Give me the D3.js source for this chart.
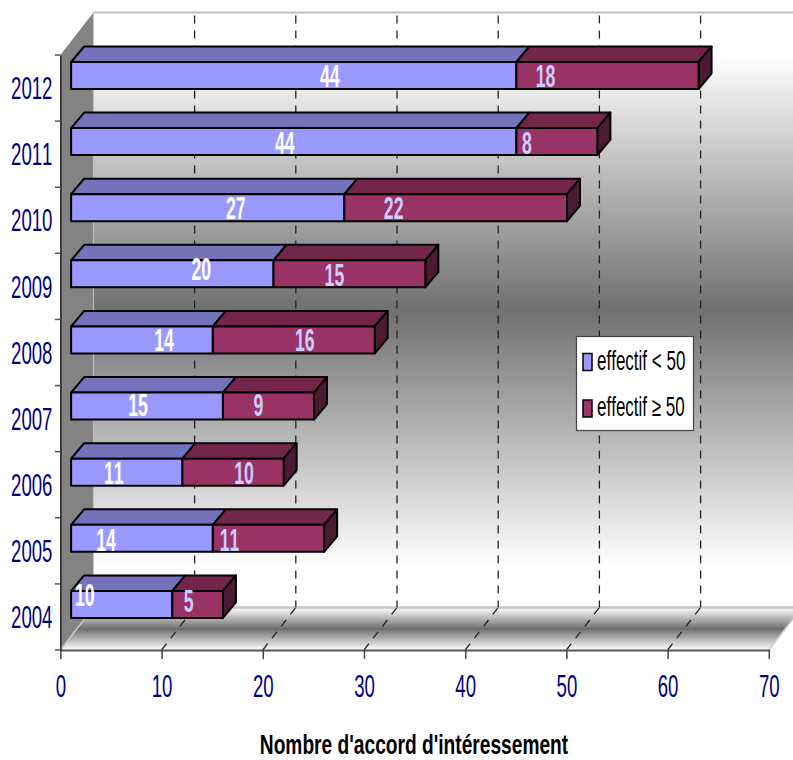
<!DOCTYPE html>
<html>
<head>
<meta charset="utf-8">
<script src="https://cdn.jsdelivr.net/npm/d3@7"></script>
<style>
  html, body { margin: 0; padding: 0; background: #fff; }
  svg { display: block; }
  text { font-family: "Liberation Sans", Arial, sans-serif; font-kerning: none; }
</style>
</head>
<body>
<svg id="chart" width="793" height="760"></svg>
<script>
// Yearly agreement counts, split by company size
const years = ["2012", "2011", "2010", "2009", "2008", "2007", "2006", "2005", "2004"];
const under50 = [44, 44, 27, 20, 14, 15, 11, 14, 10];
const over50 = [18, 8, 22, 15, 16, 9, 10, 11, 5];
const seriesNames = ["effectif < 50", "effectif \u2265 50"];
const xTicks = [0, 10, 20, 30, 40, 50, 60, 70];
const axisTitle = "Nombre d'accord d'int\u00e9ressement";

// Hand-placed value labels: offset from each segment's centre
const nudgeUnder = [[36, 0], [-9, 1], [28, 0], [29, -5], [22, 0], [-9, -1], [-13, 1], [-36, 2], [-37, -10]];
const nudgeOver = [[-62, 0], [-30, 1], [-62, 0], [-15, 1], [11, 0], [-10, -1], [11, 1], [-39, 2], [-9, -4]];

const svg = d3.select("#chart");
const x = d3.scaleLinear().domain([0, 70]).range([60.4, 768.8]);
const y = d3.scaleBand().domain(years).range([55, 650]);

// Oblique projection of the chart box and of each bar
const wallDx = 33, wallDy = -42.5;
const barDx = 13, barDy = -15.5;
const barShift = 1.06;    // bars sit about one unit in from the wall
const barInset = 7, barHeight = 27;

const colors = {
  a: { front: "#9999ff", top: "#7373bb", side: "#5c5c99", label: "#ffffff" },
  b: { front: "#993366", top: "#732649", side: "#4d1a33", label: "#ccccff" }
};

const defs = svg.append("defs");
const wallGrad = defs.append("linearGradient").attr("id", "wallFill").attr("x1", 0).attr("y1", 0).attr("x2", 0).attr("y2", 1);
[[0, "#ffffff"], [0.07, "#ffffff"], [0.5, "#707070"], [0.93, "#ffffff"], [1, "#ffffff"]]
  .forEach(([o, c]) => wallGrad.append("stop").attr("offset", o).attr("stop-color", c));
const floorGrad = defs.append("linearGradient").attr("id", "floorFill").attr("x1", 0).attr("y1", 0).attr("x2", 0).attr("y2", 1);
[[0, "#ffffff"], [0.5, "#6e6e6e"], [1, "#ffffff"]]
  .forEach(([o, c]) => floorGrad.append("stop").attr("offset", o).attr("stop-color", c));

const x0 = x(0), x1 = x(70), yTop = y.range()[0], yBot = y.range()[1];
const poly = pts => pts.map(p => p.join(",")).join(" ");

// Chart box: back wall, left wall, floor
svg.append("polygon")
  .attr("points", poly([[x0 + wallDx, yTop + wallDy], [x1 + wallDx, yTop + wallDy], [x1 + wallDx, yBot + wallDy], [x0 + wallDx, yBot + wallDy]]))
  .attr("fill", "url(#wallFill)");
svg.append("polygon")
  .attr("points", poly([[x0, yTop], [x0 + wallDx, yTop + wallDy], [x0 + wallDx, yBot + wallDy], [x0, yBot]]))
  .attr("fill", "#838383");
svg.append("polygon")
  .attr("points", poly([[x0, yBot], [x1, yBot], [x1 + wallDx, yBot + wallDy], [x0 + wallDx, yBot + wallDy]]))
  .attr("fill", "url(#floorFill)");
svg.append("line")
  .attr("x1", x0 + wallDx).attr("x2", 793).attr("y1", yTop + wallDy).attr("y2", yTop + wallDy)
  .attr("stroke", "#c0c0c0").attr("stroke-width", 2);
svg.append("line")
  .attr("x1", x0 + wallDx).attr("x2", 793).attr("y1", yBot + wallDy).attr("y2", yBot + wallDy)
  .attr("stroke", "#c4c4c4").attr("stroke-width", 2.5);
svg.append("line")
  .attr("x1", x0 + wallDx).attr("x2", x0 + wallDx).attr("y1", yTop + wallDy).attr("y2", yBot + wallDy)
  .attr("stroke", "#c0c0c0").attr("stroke-width", 1);
svg.append("line")
  .attr("x1", x0).attr("y1", yBot).attr("x2", x0 + wallDx).attr("y2", yBot + wallDy)
  .attr("stroke", "#c8c8c8").attr("stroke-width", 1.5);
svg.append("line")
  .attr("x1", x1).attr("y1", yBot).attr("x2", x1 + wallDx).attr("y2", yBot + wallDy)
  .attr("stroke", "#c8c8c8").attr("stroke-width", 1.5);

// Dashed gridlines up the back wall and across the floor
const gridValues = xTicks.slice(1, -1);
const grid = svg.append("g").attr("fill", "none").attr("stroke", "#222").attr("stroke-width", 1.3).attr("stroke-dasharray", "8 7");
grid.selectAll(".wall").data(gridValues).join("line")
  .attr("x1", d => x(d) + wallDx).attr("x2", d => x(d) + wallDx)
  .attr("y1", yTop + wallDy + 3).attr("y2", yBot + wallDy);
grid.selectAll(".floor").data(gridValues).join("line")
  .attr("x1", d => x(d)).attr("y1", yBot)
  .attr("x2", d => x(d) + wallDx).attr("y2", yBot + wallDy);

// Axes
const axisBottom = svg.append("g")
  .attr("transform", `translate(0,${yBot})`)
  .call(d3.axisBottom(x).tickValues(xTicks).tickSize(9).tickPadding(0).tickSizeOuter(0));
axisBottom.select(".domain").attr("stroke", "#555").attr("stroke-width", 2);
axisBottom.selectAll(".tick line").attr("stroke", "#444").attr("stroke-width", 1.5);
axisBottom.selectAll(".tick text")
  .attr("y", 0).attr("dy", 0)
  .attr("transform", "translate(0,47) scale(0.6,1)")
  .attr("font-size", 31).attr("fill", "#000080");

const axisLeft = svg.append("g")
  .attr("transform", `translate(${x0},0)`)
  .call(d3.axisLeft(y).tickSize(0).tickSizeOuter(0));
axisLeft.select(".domain").attr("stroke", "#222").attr("stroke-width", 1.5);
axisLeft.selectAll(".tick text")
  .attr("x", 0).attr("dy", "0.36em")
  .attr("transform", "translate(-8,0) scale(0.6,1)")
  .attr("font-size", 31).attr("fill", "#000080");
svg.append("g").selectAll("line").data(years.concat("end")).join("line")
  .attr("x1", x0 - 5.5).attr("x2", x0)
  .attr("y1", (d, i) => yTop + i * y.step()).attr("y2", (d, i) => yTop + i * y.step())
  .attr("stroke", "#555").attr("stroke-width", 1.5);

// A bar segment is a front face with a top face and, at the end of the stack, a side face
function segment(g, from, to, yFront, c, withSide) {
  const l = x(barShift + from), r = x(barShift + to), t = yFront, b = yFront + barHeight;
  const faces = g.append("g").attr("stroke", "#000").attr("stroke-width", 2).attr("stroke-linejoin", "round");
  faces.append("polygon").attr("fill", c.top)
    .attr("points", poly([[l, t], [l + barDx, t + barDy], [r + barDx, t + barDy], [r, t]]));
  if (withSide) {
    faces.append("polygon").attr("fill", c.side)
      .attr("points", poly([[r, t], [r + barDx, t + barDy], [r + barDx, b + barDy], [r, b]]));
  }
  faces.append("rect").attr("fill", c.front)
    .attr("x", l).attr("y", t).attr("width", r - l).attr("height", barHeight);
}

const bars = svg.append("g");
years.forEach((year, i) => {
  const yFront = y(year) + barInset;
  const g = bars.append("g");
  segment(g, 0, under50[i], yFront, colors.a, false);
  segment(g, under50[i], under50[i] + over50[i], yFront, colors.b, true);
});

// Value labels go on top of every bar
function valueLabel(value, from, yFront, nudge, fill) {
  svg.append("text")
    .attr("transform", `translate(${x(barShift + from + value / 2) + nudge[0]},${yFront + barHeight / 2 + nudge[1]}) scale(0.57,1)`)
    .attr("text-anchor", "middle").attr("dy", "0.36em")
    .attr("font-size", 31).attr("font-weight", "bold").attr("fill", fill)
    .text(value);
}
years.forEach((year, i) => {
  const yFront = y(year) + barInset;
  valueLabel(under50[i], 0, yFront, nudgeUnder[i], colors.a.label);
  valueLabel(over50[i], under50[i], yFront, nudgeOver[i], colors.b.label);
});

// Legend
const legend = svg.append("g").attr("transform", "translate(576,336)");
legend.append("rect").attr("x", 0.5).attr("y", 0.5).attr("width", 117).attr("height", 94)
  .attr("fill", "#fff").attr("stroke", "#444").attr("stroke-width", 1.2);
seriesNames.forEach((name, i) => {
  const row = legend.append("g").attr("transform", `translate(0,${17.5 + i * 46.5})`);
  row.append("rect").attr("x", 7).attr("y", 0).attr("width", 9).attr("height", 17)
    .attr("fill", [colors.a.front, colors.b.front][i]).attr("stroke", "#000").attr("stroke-width", 1.5);
  row.append("text").attr("transform", "translate(21,16) scale(0.63,1)")
    .attr("font-size", 27).attr("fill", "#000").text(name);
});

// Axis title
svg.append("text")
  .attr("transform", "translate(414,754) scale(0.71,1)")
  .attr("text-anchor", "middle").attr("font-size", 27).attr("font-weight", "bold").attr("fill", "#000")
  .text(axisTitle);
</script>
</body>
</html>
